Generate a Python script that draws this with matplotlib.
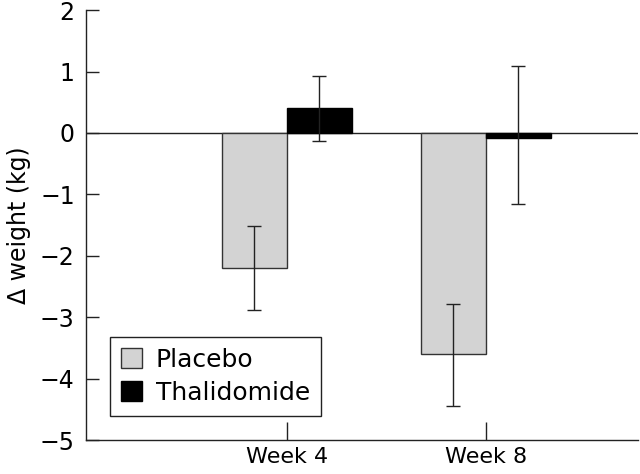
import matplotlib

matplotlib.use("Agg")
import matplotlib.pyplot as plt
import numpy as np

# Dados
semanas = ["Week 4", "Week 8"]
placebo = [-2.2, -3.6]
placebo_err_baixo = [0.69, 0.84]
placebo_err_alto = [0.69, 0.82]
talidomida = [0.4, -0.08]
talidomida_err_baixo = [0.53, 1.07]
talidomida_err_alto = [0.53, 1.17]

PLACEBO_COR = "#d3d3d3"
TALID_COR = "#000000"

plt.rcParams["font.family"] = "DejaVu Sans"

fig = plt.figure(figsize=(6.4, 4.74), dpi=100)
ax = fig.add_axes([0.134, 0.0717, 0.863, 0.907])

x = np.arange(len(semanas))
w = 0.327

ax.bar(x - w / 2, placebo, w, color=PLACEBO_COR, edgecolor="#333333",
       linewidth=1.0, label="Placebo", zorder=2)
ax.bar(x + w / 2, talidomida, w, color=TALID_COR, edgecolor=TALID_COR,
       linewidth=1.0, label="Thalidomide", zorder=2)
ax.errorbar(x - w / 2, placebo, yerr=[placebo_err_baixo, placebo_err_alto],
            fmt="none", ecolor="#222222", elinewidth=1.0, capsize=5,
            capthick=1.0, zorder=3)
ax.errorbar(x + w / 2, talidomida,
            yerr=[talidomida_err_baixo, talidomida_err_alto], fmt="none",
            ecolor="#222222", elinewidth=1.0, capsize=5, capthick=1.0, zorder=3)

ax.axhline(0, color="#222222", linewidth=1.0, zorder=1)

ax.set_xlim(-1.01, 1.765)
ax.set_ylim(-5, 2)
ax.set_yticks(range(-5, 3))
ax.set_yticklabels([str(v).replace("-", "\u2212") for v in range(-5, 3)])
ax.set_xticks(x)
ax.set_xticklabels(semanas)

for s in ["top", "right"]:
    ax.spines[s].set_visible(False)
for s in ["left", "bottom"]:
    ax.spines[s].set_linewidth(1.0)
    ax.spines[s].set_color("#222222")

ax.tick_params(axis="y", direction="in", length=9, width=1.0,
               labelsize=17, pad=8, color="#222222")
ax.tick_params(axis="x", direction="in", length=13, width=1.0,
               labelsize=16, pad=5, color="#222222")

ax.set_ylabel("\u0394 weight (kg)", fontsize=17, labelpad=6)

ax.legend(loc="lower left", bbox_to_anchor=(0.043, 0.056), borderaxespad=0,
          fontsize=18, frameon=True, fancybox=False, edgecolor="#222222",
          framealpha=1, handlelength=0.85, handleheight=0.85,
          handletextpad=0.55, borderpad=0.45, labelspacing=0.35)
ax.get_legend().get_frame().set_linewidth(1.0)

fig.savefig("out.png", dpi=100)
